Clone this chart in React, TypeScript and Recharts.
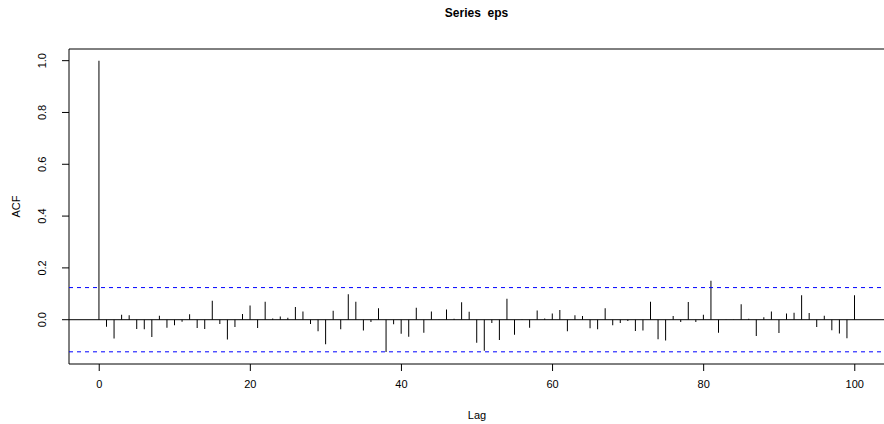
import React from 'react';
import {
  BarChart,
  Bar,
  XAxis,
  YAxis,
  ReferenceLine,
  ReferenceArea,
  Label,
} from 'recharts';

// sample autocorrelation of eps, lags 0..100
const acfValues: number[] = [
  1.0, -0.027, -0.073, 0.019, 0.017, -0.036, -0.037, -0.067, 0.015, -0.031,
  -0.021, -0.008, 0.021, -0.032, -0.036, 0.073, -0.017, -0.076, -0.028, 0.022,
  0.055, -0.032, 0.069, 0.005, 0.012, 0.008, 0.049, 0.032, -0.017, -0.045,
  -0.095, 0.035, -0.037, 0.098, 0.069, -0.042, -0.009, 0.044, -0.125, -0.018,
  -0.054, -0.066, 0.046, -0.05, 0.032, 0.001, 0.039, 0.004, 0.067, 0.031,
  -0.089, -0.12, -0.013, -0.078, 0.081, -0.058, 0.001, -0.031, 0.036, 0.005,
  0.024, 0.037, -0.045, 0.017, 0.014, -0.033, -0.037, 0.044, -0.021, -0.013,
  -0.005, -0.044, -0.042, 0.069, -0.075, -0.08, 0.014, -0.009, 0.068, -0.009,
  0.019, 0.15, -0.05, 0.001, -0.001, 0.06, 0.004, -0.063, 0.009, 0.032,
  -0.051, 0.024, 0.027, 0.094, 0.026, -0.028, 0.015, -0.041, -0.053, -0.072,
  0.094,
];
const lags: number[] = acfValues.map((_, i) => i);
const ciBound = 0.124;
const xTicks = [0, 20, 40, 60, 80, 100];
const yTicks = [0, 0.2, 0.4, 0.6, 0.8, 1.0];
const xDomain: [number, number] = [-4, 104];
const yDomain: [number, number] = [-0.171, 1.045];

const data = lags.map((lag, i) => ({ lag, acf: acfValues[i] }));

const FONT = '"Liberation Sans", Arial, Helvetica, sans-serif';

const YTick = ({ y, payload }: any) => (
  <g>
    <line x1={62} x2={69} y1={y} y2={y} stroke="#000" />
    <text
      x={42}
      y={y}
      dy="0.35em"
      textAnchor="middle"
      fontSize={11}
      fontFamily={FONT}
      fill="#000"
      transform={`rotate(-90 42 ${y})`}
    >
      {payload.value.toFixed(1)}
    </text>
  </g>
);

export default function App() {
  return (
    <div style={{ position: 'absolute', left: 0, top: 0, width: 884, height: 424, background: '#fff' }}>
      <div
        style={{
          position: 'absolute',
          left: 69,
          width: 815,
          top: 6,
          textAlign: 'center',
          fontFamily: FONT,
          fontWeight: 'bold',
          fontSize: 12,
          whiteSpace: 'pre',
        }}
      >
        {'Series  eps'}
      </div>
      <BarChart
        width={884}
        height={424}
        data={data}
        margin={{ top: 49, right: -1, bottom: 0, left: 0 }}
        barSize={1}
      >
        <XAxis
          dataKey="lag"
          type="number"
          domain={xDomain}
          ticks={xTicks}
          allowDataOverflow
          axisLine={false}
          tickLine={{ stroke: '#000' }}
          tickSize={7}
          tickMargin={9}
          height={60}
          tick={{ fill: '#000', fontSize: 11, fontFamily: FONT }}
        >
          <Label
            value="Lag"
            position="insideBottom"
            offset={5}
            style={{ fill: '#000', fontSize: 11, fontFamily: FONT }}
          />
        </XAxis>
        <YAxis
          type="number"
          domain={yDomain}
          ticks={yTicks}
          allowDataOverflow
          axisLine={false}
          tickLine={false}
          width={69}
          tick={<YTick />}
        >
          <Label
            value="ACF"
            angle={-90}
            position="insideLeft"
            offset={16}
            style={{ fill: '#000', fontSize: 11, fontFamily: FONT, textAnchor: 'middle' }}
          />
        </YAxis>
        <ReferenceArea
          x1={xDomain[0]}
          x2={xDomain[1]}
          y1={yDomain[0]}
          y2={yDomain[1]}
          fill="none"
          stroke="#000"
          ifOverflow="visible"
        />
        <ReferenceLine y={0} stroke="#000" />
        <ReferenceLine y={ciBound} stroke="#0000ff" strokeDasharray="4 4" />
        <ReferenceLine y={-ciBound} stroke="#0000ff" strokeDasharray="4 4" />
        <Bar dataKey="acf" fill="#000" isAnimationActive={false} />
      </BarChart>
    </div>
  );
}
